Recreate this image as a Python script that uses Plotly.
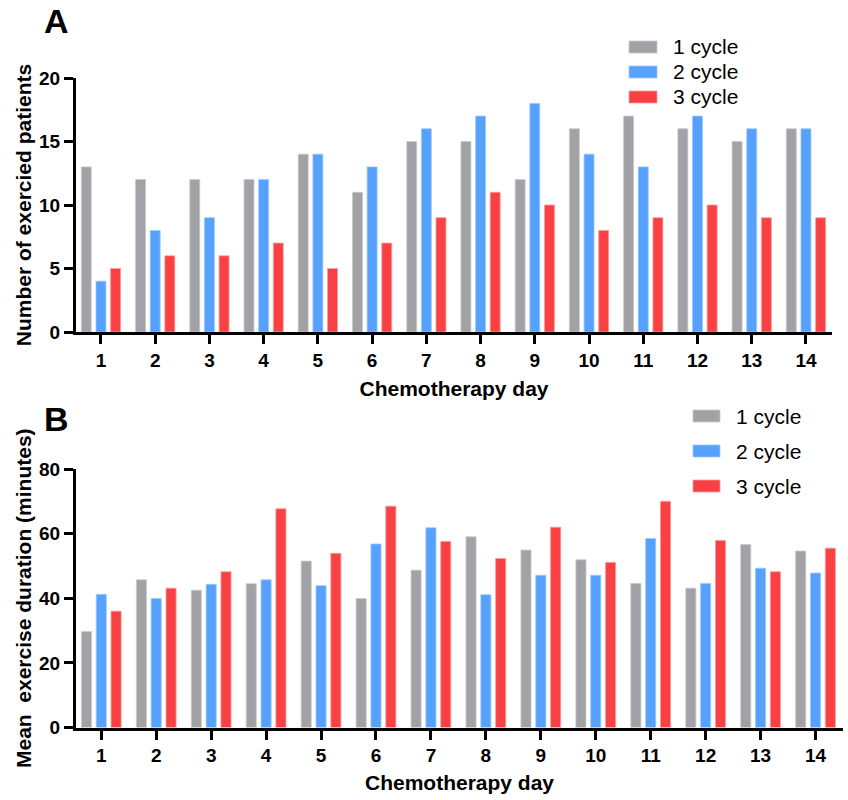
import plotly.graph_objects as go

days = list(range(1, 15))
series_names = ["1 cycle", "2 cycle", "3 cycle"]

patients_1 = [13, 12, 12, 12, 14, 11, 15, 15, 12, 16, 17, 16, 15, 16]
patients_2 = [4, 8, 9, 12, 14, 13, 16, 17, 18, 14, 13, 17, 16, 16]
patients_3 = [5, 6, 6, 7, 5, 7, 9, 11, 10, 8, 9, 10, 9, 9]

duration_1 = [29.7, 45.7, 42.5, 44.5, 51.5, 39.9, 48.7, 59.0, 54.9, 51.9, 44.6, 43.1, 56.6, 54.6]
duration_2 = [41.2, 39.9, 44.3, 45.7, 43.9, 56.8, 61.8, 41.1, 47.1, 47.1, 58.5, 44.6, 49.3, 47.8]
duration_3 = [36.0, 43.1, 48.2, 67.7, 53.9, 68.5, 57.6, 52.3, 62.0, 51.1, 70.0, 57.9, 48.2, 55.5]

colors = ["#A2A1A6", "#55A1FB", "#F94144"]
edge_colors = ["#C9C8CC", "#9CC8FD", "#FB9A9C"]

# the page's body margin is removed (see post_script), so the figure fills the window
W, H = 848, 800
FONT = "Liberation Sans, Arial, Helvetica, sans-serif"

fig = go.Figure()

for i, vals in enumerate([patients_1, patients_2, patients_3]):
    fig.add_trace(go.Bar(x=days, y=vals, name=series_names[i], xaxis="x", yaxis="y",
                         marker=dict(color=colors[i], line=dict(color=edge_colors[i], width=0.8)),
                         showlegend=False))
for i, vals in enumerate([duration_1, duration_2, duration_3]):
    fig.add_trace(go.Bar(x=days, y=vals, name=series_names[i], xaxis="x2", yaxis="y2",
                         marker=dict(color=colors[i], line=dict(color=edge_colors[i], width=0.8)),
                         showlegend=False))

def px_x(p):
    return p / W

def px_y(p):
    return 1 - p / H

tickfont = dict(family=FONT, size=19, color="black", weight="bold")
titlefont = dict(family=FONT, size=21, color="black", weight="bold")

common_x = dict(showline=True, linewidth=3, linecolor="black", ticks="outside", ticklen=9,
                tickwidth=3, tickcolor="black", showgrid=False, zeroline=False, automargin=False,
                tickmode="array", tickvals=days, ticktext=[str(d) for d in days],
                tickfont=tickfont)
common_y = dict(showline=True, linewidth=3, linecolor="black", ticks="outside", ticklen=9,
                tickwidth=3, tickcolor="black", showgrid=False, zeroline=False, automargin=False,
                tickfont=tickfont)

fig.update_layout(
    width=W, height=H,
    margin=dict(l=0, r=0, t=0, b=0, autoexpand=False),
    paper_bgcolor="white", plot_bgcolor="white",
    barmode="group", bargap=0.19, bargroupgap=0.32,
    xaxis=dict(domain=[px_x(76), px_x(832)], anchor="y", range=[0.54, 14.48],
               title=dict(text="Chemotherapy day", font=titlefont, standoff=12), **common_x),
    yaxis=dict(domain=[px_y(332), px_y(78)], anchor="x", range=[0, 20],
               tickvals=[0, 5, 10, 15, 20],
               title=dict(text="Number of exercied patients", font=titlefont, standoff=2), **common_y),
    xaxis2=dict(domain=[px_x(76), px_x(843)], anchor="y2", range=[0.54, 14.5],
                title=dict(text="Chemotherapy day", font=titlefont, standoff=11), **common_x),
    yaxis2=dict(domain=[px_y(727.5), px_y(469)], anchor="x2", range=[0, 80],
                tickvals=[0, 20, 40, 60, 80],
                title=dict(text="Mean  exercise duration (minutes)", font=titlefont, standoff=2), **common_y),
)

letter_font = dict(family=FONT, size=34, color="black", weight="bold")
annotations = [
    dict(text="A", x=px_x(42), y=px_y(21), xref="paper", yref="paper", xanchor="left",
         yanchor="middle", showarrow=False, font=letter_font),
    dict(text="B", x=px_x(42), y=px_y(419), xref="paper", yref="paper", xanchor="left",
         yanchor="middle", showarrow=False, font=letter_font),
]
shapes = []

legend_specs = [
    (629, 657, 671, [47, 72, 97]),
    (693, 720, 734, [416, 451, 486]),
]
for (x0, x1, xt, rows) in legend_specs:
    for i, yc in enumerate(rows):
        shapes.append(dict(type="rect", xref="paper", yref="paper",
                           x0=px_x(x0), x1=px_x(x1), y0=px_y(yc + 6), y1=px_y(yc - 6),
                           fillcolor=colors[i], line=dict(color=edge_colors[i], width=0.8)))
        annotations.append(dict(text=series_names[i], x=px_x(xt), y=px_y(yc), xref="paper",
                                yref="paper", xanchor="left", yanchor="middle", showarrow=False,
                                font=dict(family=FONT, size=21, color="black")))

fig.update_layout(annotations=annotations, shapes=shapes)

fig.write_html("out.html", config={"displayModeBar": False},
               post_script="document.body.style.margin='0';")
